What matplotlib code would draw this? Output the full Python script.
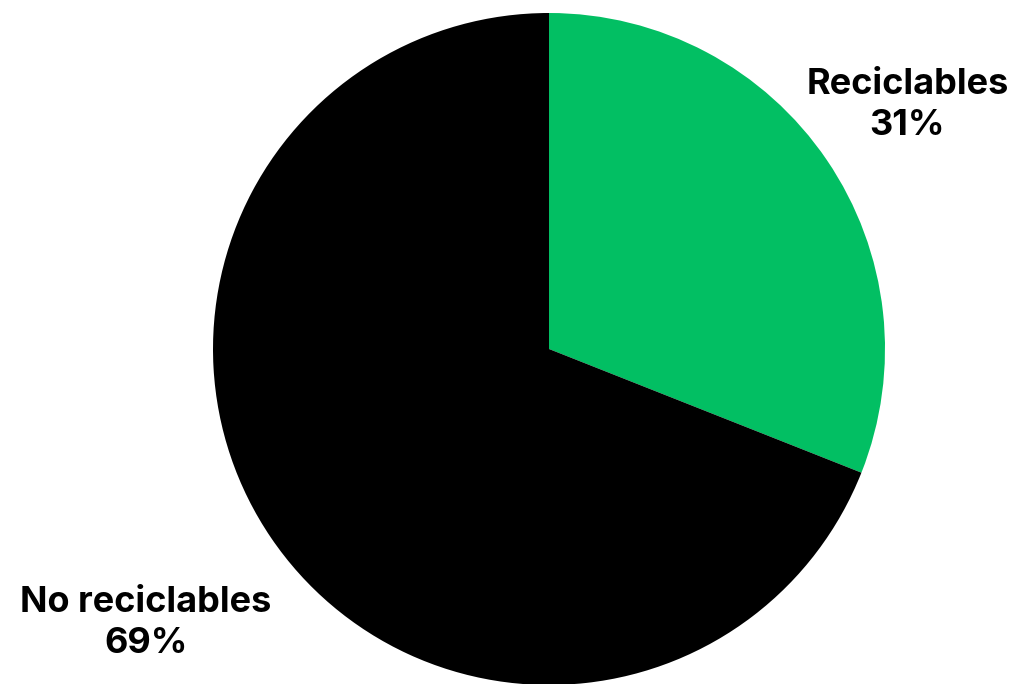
import numpy as np
import matplotlib.pyplot as plt

categories = ['Reciclables', 'No reciclables']
values = [31, 69]
colors = ['#02bf63', '#000000']
label_dist = [1.29, 1.45]

plt.rcParams['font.family'] = ['Inter', 'DejaVu Sans']

fg = plt.figure(figsize=(10.24, 6.84), dpi=100)
ax = fg.add_axes([213/1024, (684-349-336)/684, 672/1024, 672/684])

wedges, _ = ax.pie(values, colors=colors, startangle=90, counterclock=False, radius=1)

for w, cat, v, d in zip(wedges, categories, values, label_dist):
	ang = np.deg2rad((w.theta1 + w.theta2) / 2)
	ax.text(d*np.cos(ang), d*np.sin(ang), '%s\n%d%%' % (cat, v), ha='center', va='center',
		fontsize=26, fontweight='bold', linespacing=1.3, clip_on=False)

ax.set_xlim(-1, 1)
ax.set_ylim(-1, 1)
ax.set_aspect('equal')
ax.axis('off')

plt.savefig('out.png', dpi=100)
